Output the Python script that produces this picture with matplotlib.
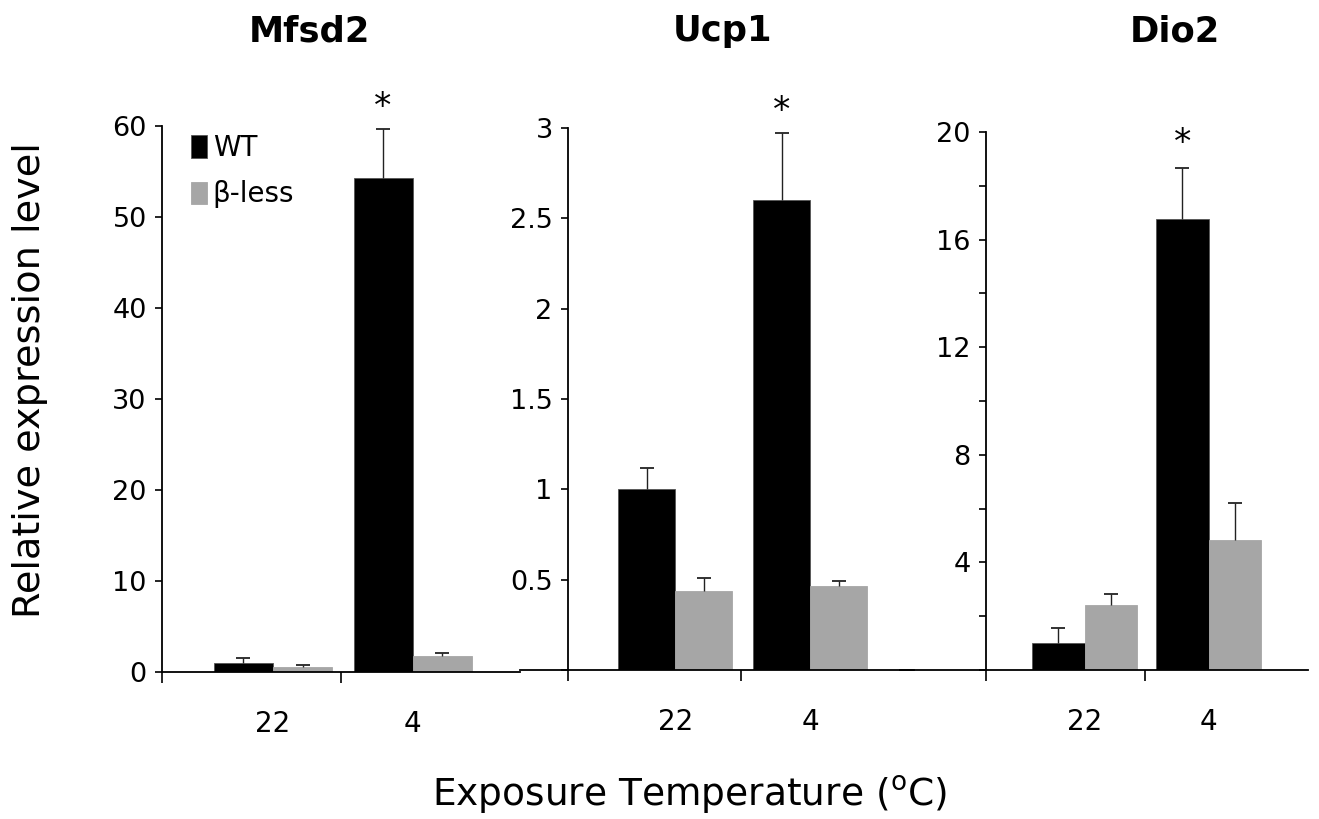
import numpy as np
import matplotlib
matplotlib.use("Agg")
import matplotlib.pyplot as plt

# data
temps = ["22", "4"]
series = ["WT", "β-less"]
genes = ["Mfsd2", "Ucp1", "Dio2"]

mfsd2_wt = [1.0, 54.3]
mfsd2_wt_err = [0.5, 5.4]
mfsd2_bl = [0.5, 1.8]
mfsd2_bl_err = [0.3, 0.3]

ucp1_wt = [1.0, 2.6]
ucp1_wt_err = [0.12, 0.37]
ucp1_bl = [0.44, 0.465]
ucp1_bl_err = [0.07, 0.025]

dio2_wt = [1.02, 16.78]
dio2_wt_err = [0.55, 1.9]
dio2_bl = [2.43, 4.85]
dio2_bl_err = [0.4, 1.35]

W, H = 1319, 819
fig = plt.figure(figsize=(W / 100, H / 100), dpi=100)
plt.rcParams['font.family'] = ['DejaVu Sans']

black = "#000000"
grey = "#a6a6a6"
centers = np.array([0.62, 1.40])
bw = 0.33


def px_axes(x0, x1, ytop, ybot):
    return fig.add_axes([x0 / W, 1 - ybot / H, (x1 - x0) / W, (ybot - ytop) / H])


def err_up(ax, x, y, e):
    # one-sided error bar: stem plus a cap at the top only
    top = np.asarray(y) + np.asarray(e)
    ax.vlines(x, y, top, color="#222222", linewidth=1.0, clip_on=False, zorder=3)
    ax.plot(x, top, ls="none", marker="_", ms=10, mew=1.3, color="#222222", clip_on=False, zorder=3)


def panel(ax, wt, wt_err, bl, bl_err, xlim, ylim, yticks, ylabels, star_off):
    b1 = ax.bar(centers - bw / 2, wt, bw, color=black, edgecolor="#555555", linewidth=0.6, label=series[0])
    b2 = ax.bar(centers + bw / 2, bl, bw, color=grey, edgecolor=grey, linewidth=0.6, label=series[1])
    err_up(ax, centers - bw / 2, wt, wt_err)
    err_up(ax, centers + bw / 2, bl, bl_err)
    # significance star over the cold-exposed WT bar
    ax.annotate("*", xy=(centers[1] - bw / 2, wt[1] + wt_err[1]), xytext=(0, star_off),
                textcoords="offset points", ha="center", va="center", fontsize=25,
                annotation_clip=False)
    ax.set_xlim(*xlim)
    ax.set_ylim(*ylim)
    for s in ["top", "right"]:
        ax.spines[s].set_visible(False)
    ax.spines["left"].set_position(("data", 0))
    ax.spines["left"].set_bounds(ylim[0], ylim[1])
    ax.spines["left"].set_linewidth(1.3)
    ax.spines["bottom"].set_linewidth(1.3)
    ax.set_yticks(yticks)
    ax.set_yticklabels(ylabels)
    ax.tick_params(axis="y", direction="out", length=5, width=1.2, labelsize=19.5, pad=6)
    ax.set_xticks([0, 1])
    ax.set_xticklabels([])
    ax.tick_params(axis="x", which="major", direction="out", length=8, width=1.2)
    ax.set_xticks(centers, minor=True)
    ax.set_xticklabels(temps, minor=True)
    ax.tick_params(axis="x", which="minor", length=0, labelsize=20, pad=27)
    ax.patch.set_alpha(0)
    return b1, b2


ax1 = px_axes(162, 520, 126, 672)
b1, b2 = panel(ax1, mfsd2_wt, mfsd2_wt_err, mfsd2_bl, mfsd2_bl_err,
               (0, 2), (0, 60), np.arange(0, 61, 10), [str(v) for v in range(0, 61, 10)], 16)
ax1.legend(handles=[b1, b2], loc="upper left", bbox_to_anchor=(0.08, 0.985), frameon=False,
           fontsize=20, borderpad=0, handlelength=0.6, handleheight=0.85, handletextpad=0.2,
           labelspacing=0.65, borderaxespad=0)

ax2 = px_axes(520, 914, 128, 670)
panel(ax2, ucp1_wt, ucp1_wt_err, ucp1_bl, ucp1_bl_err,
      (-48 / 173, 2), (0, 3), np.arange(0, 3.01, 0.5), ["", "0.5", "1", "1.5", "2", "2.5", "3"], 16)

ax3 = px_axes(900, 1308, 132, 670)
dio_ticks = np.arange(0, 21, 2)
panel(ax3, dio2_wt, dio2_wt_err, dio2_bl, dio2_bl_err,
      (-86 / 159, 322 / 159), (0, 20), dio_ticks,
      [str(v) if (v % 4 == 0 and v > 0) else "" for v in dio_ticks], 18)

title_x = [309, 722, 1175]
for g, tx in zip(genes, title_x):
    fig.text(tx / W, 1 - 31 / H, g, ha="center", va="center", fontsize=25.5, fontweight="bold")

fig.text(689 / W, 1 - 795 / H, "Exposure Temperature ($^{\\mathrm{o}}$C)", ha="center", va="center",
         fontsize=27)
fig.text(30 / W, 1 - 380 / H, "Relative expression level", ha="center", va="center",
         rotation=90, fontsize=27.5)

fig.savefig("out.png", dpi=100)
